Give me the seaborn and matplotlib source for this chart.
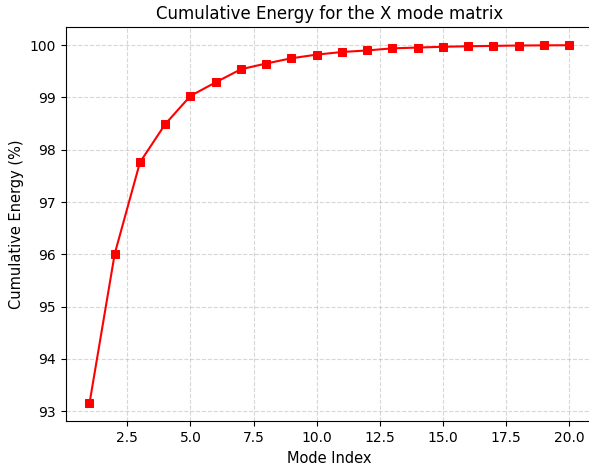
import matplotlib
matplotlib.use("Agg")
import matplotlib.pyplot as plt
import seaborn as sns
import pandas as pd

mode_index = list(range(1, 21))
cumulative_energy = [93.15, 96.01, 97.76, 98.49, 99.03, 99.29, 99.54, 99.65, 99.75, 99.82,
                     99.87, 99.90, 99.94, 99.955, 99.97, 99.98, 99.987, 99.994, 99.997, 100.0]

df = pd.DataFrame({"Mode Index": mode_index, "Cumulative Energy (%)": cumulative_energy})

plt.rcParams['font.family'] = ['DejaVu Sans']
fig = plt.figure(figsize=(5.89, 4.68), dpi=100)
W, H = 589, 468
ax = fig.add_axes([65.5 / W, (H - 421.3) / H, (593 - 65.5) / W, (421.3 - 27.3) / H])
sns.lineplot(data=df, x="Mode Index", y="Cumulative Energy (%)", marker="s", color="red",
             markersize=6, markeredgecolor="red", linewidth=1.5, ax=ax)
ax.set_title("Cumulative Energy for the X mode matrix", fontsize=12)
ax.set_xlabel("Mode Index", fontsize=10.5)
ax.set_ylabel("Cumulative Energy (%)", fontsize=10.5)
ax.tick_params(labelsize=10)
ax.grid(True, linestyle="--", alpha=0.5)
fig.savefig("out.png", dpi=100)
